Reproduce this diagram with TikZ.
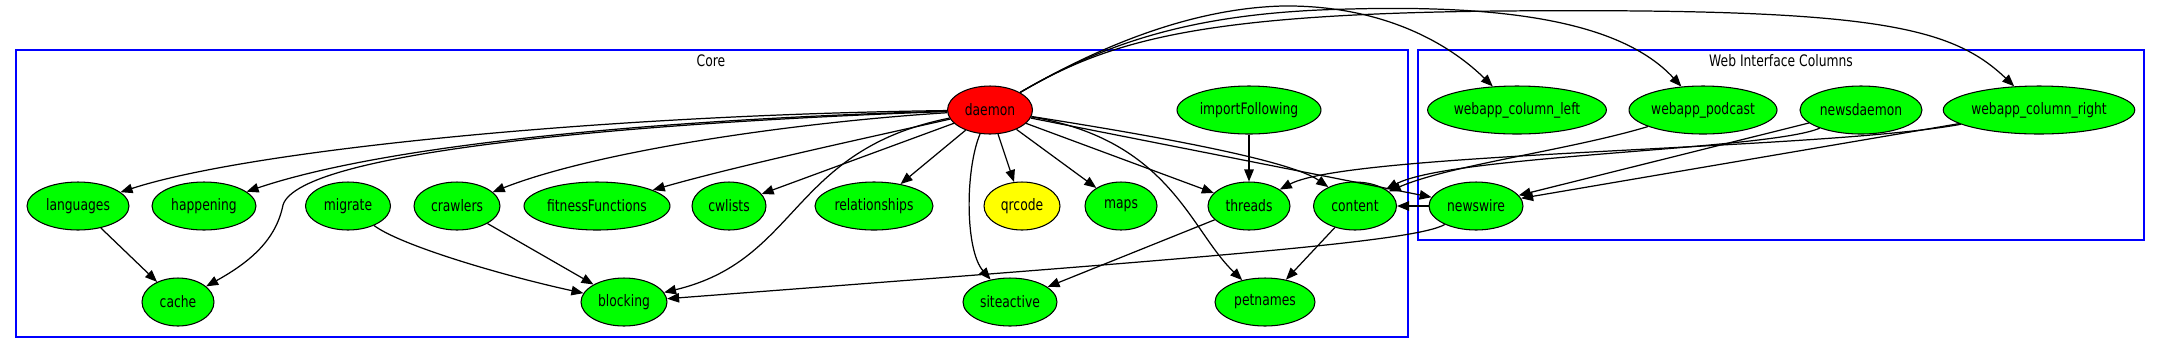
\documentclass[tikz,border=0pt]{standalone}
\usepackage{fontspec}
\setmainfont[FakeStretch=0.78]{DejaVu Sans}
\usetikzlibrary{arrows.meta,shapes.geometric,positioning}
\definecolor{modgreen} {RGB}{0,255,0}
\definecolor{modred}   {RGB}{255,0,0}
\definecolor{modyellow}{RGB}{255,255,0}
\definecolor{clusblue} {RGB}{0,0,255}

\begin{document}
\begin{tikzpicture}[x=0.02cm,y=-0.02cm,
  every node/.style={font=\fontsize{9}{11}\selectfont},
  mod/.style={ellipse,draw,line width=0.6pt,fill=modgreen,
              minimum height=0.96cm,inner sep=0pt},
  arr/.style={-{Triangle[length=0.24cm,width=0.19cm]},line width=0.7pt},
  clus/.style={draw=clusblue,line width=0.7pt},
]
\useasboundingbox (0,0) rectangle (2160,353);

%% -- Clusters ---------------------------------------------------------
\draw[clus] (16,50) rectangle (1408,337);
\node (corelbl) at (711,61) {Core};
\draw[clus] (1418,50) rectangle (2144,240);
\node (weblbl) at (1781,61) {Web Interface Columns};

%% -- Core, top row ----------------------------------------------------
\node[mod,fill=modred,minimum width=1.70cm] (daemon) at (990,110) {daemon};
\node[mod,minimum width=2.88cm] (importFollowing) at (1249,110) {importFollowing};

%% -- Core, middle row -------------------------------------------------
\node[mod,minimum width=2.04cm] (languages) at (78,206) {languages};
\node[mod,minimum width=2.08cm] (happening) at (204,206) {happening};
\node[mod,minimum width=1.70cm] (migrate) at (348,206) {migrate};
\node[mod,minimum width=1.72cm] (crawlers) at (457,206) {crawlers};
\node[mod,minimum width=2.92cm] (fitnessFunctions) at (597,206) {fitnessFunctions};
\node[mod,minimum width=1.48cm] (cwlists) at (729,206) {cwlists};
\node[mod,minimum width=2.36cm] (relationships) at (874,206) {relationships};
\node[mod,fill=modyellow,minimum width=1.52cm] (qrcode) at (1022,206) {qrcode};
\node[mod,minimum width=1.44cm] (maps) at (1121,206) {maps};
\node[mod,minimum width=1.64cm] (threads) at (1249,206) {threads};
\node[mod,minimum width=1.66cm] (content) at (1355,206) {content};

%% -- Core, bottom row -------------------------------------------------
\node[mod,minimum width=1.44cm] (cache) at (178,302) {cache};
\node[mod,minimum width=1.72cm] (blocking) at (624,302) {blocking};
\node[mod,minimum width=1.88cm] (siteactive) at (1010,302) {siteactive};
\node[mod,minimum width=2.00cm] (petnames) at (1265,302) {petnames};

%% -- Web interface columns --------------------------------------------
\node[mod,minimum width=3.52cm] (colleft) at (1517,110) {webapp\_column\_left};
\node[mod,minimum width=2.96cm] (podcast) at (1703,110) {webapp\_podcast};
\node[mod,minimum width=2.44cm] (newsdaemon) at (1861,110) {newsdaemon};
\node[mod,minimum width=3.72cm] (colright) at (2039,110) {webapp\_column\_right};
\node[mod,minimum width=1.88cm] (newswire) at (1476,206) {newswire};

%% -- daemon fan-out ---------------------------------------------------
\draw[arr] (daemon) .. controls (600,115) and (250,150) .. (languages);
\draw[arr] (daemon) .. controls (700,118) and (400,140) .. (happening);
\draw[arr] (daemon) .. controls (650,122) and (300,150) .. (283,205)
  .. controls (276,240) and (250,262) .. (cache);
\draw[arr] (daemon) .. controls (800,122) and (600,150) .. (crawlers);
\draw[arr] (daemon) .. controls (880,135) and (740,165) .. (fitnessFunctions);
\draw[arr] (daemon) -- (cwlists);
\draw[arr] (daemon) .. controls (790,150) and (800,260) .. (blocking);
\draw[arr] (daemon) -- (relationships);
\draw[arr] (daemon) .. controls (965,170) and (965,250) .. (siteactive);
\draw[arr] (daemon) -- (qrcode);
\draw[arr] (daemon) -- (maps);
\draw[arr] (daemon) -- (threads);
\draw[arr] (daemon) .. controls (1150,135) and (1290,160) .. (content);
\draw[arr] (daemon) .. controls (1170,140) and (1190,230) .. (petnames);
\draw[arr] (daemon) -- (newswire);

%% daemon over the top to the web columns
\draw[arr] (daemon) .. controls (1110,40) and (1200,8) .. (1283,6)
  .. controls (1370,5) and (1440,35) .. (colleft);
\draw[arr] (daemon) .. controls (1110,40) and (1200,12) .. (1350,9)
  .. controls (1500,5) and (1620,20) .. (podcast);
\draw[arr] (daemon) .. controls (1110,40) and (1200,14) .. (1500,11)
  .. controls (1870,8) and (1950,25) .. (colright);

%% -- Core internal ----------------------------------------------------
\draw[arr] (importFollowing) -- (threads);
\draw[arr] (languages) -- (cache);
\draw[arr] (migrate) .. controls (400,245) and (500,275) .. (blocking);
\draw[arr] (crawlers) -- (blocking);
\draw[arr] (threads) -- (siteactive);
\draw[arr] (content) -- (petnames);

%% -- Web columns into core --------------------------------------------
\draw[arr] (newswire) -- (content);
\draw[arr] (newswire) .. controls (1415,242) and (1200,258) .. (blocking);
\draw[arr] (podcast) .. controls (1570,150) and (1450,165) .. (content);
\draw[arr] (newsdaemon) .. controls (1770,150) and (1450,155) .. (content);
\draw[arr] (newsdaemon) -- (newswire);
\draw[arr] (colright) -- (newswire);
\draw[arr] (colright) .. controls (1820,150) and (1350,152) .. (threads);

\end{tikzpicture}
\end{document}
